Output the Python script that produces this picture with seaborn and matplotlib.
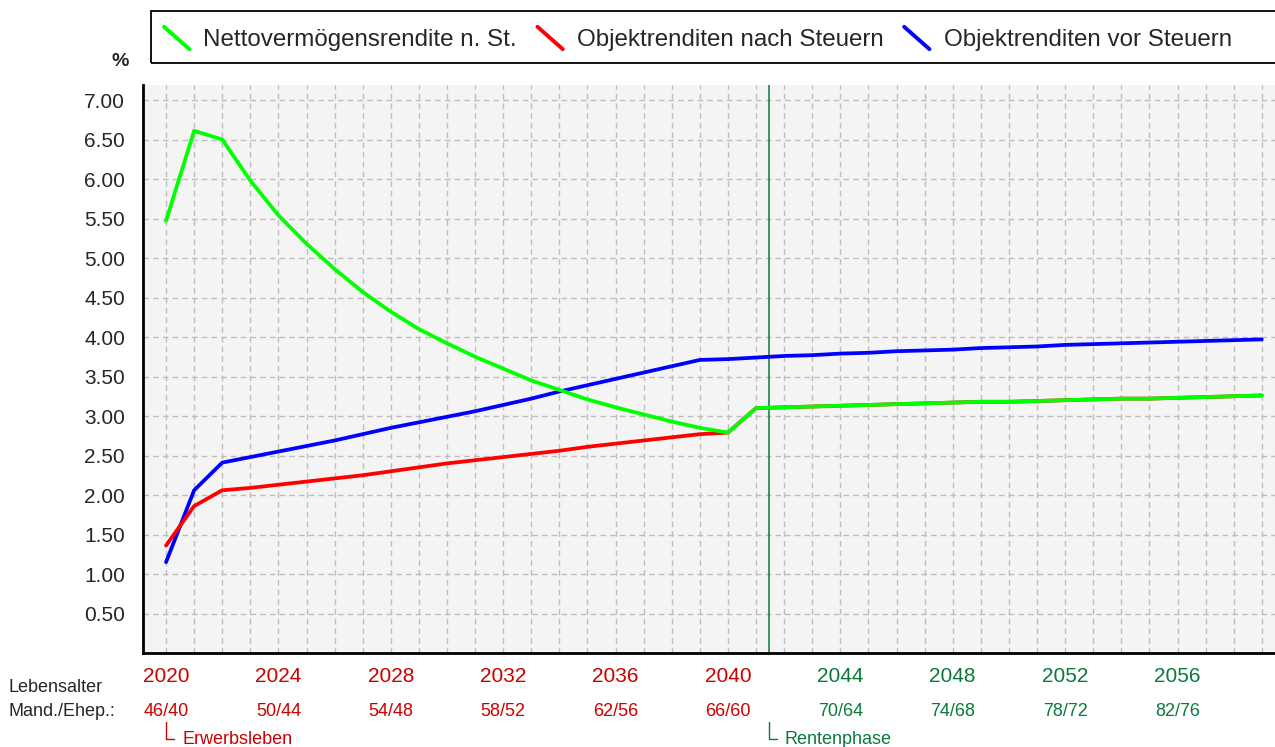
import pandas as pd
import seaborn as sns
import matplotlib.pyplot as plt
import matplotlib.transforms as mtransforms
from matplotlib.lines import Line2D
from matplotlib.patches import Rectangle
from matplotlib.legend_handler import HandlerBase

# data
years = list(range(2020, 2060))
netto = [5.47, 6.61, 6.50, 5.98, 5.54, 5.18, 4.86, 4.57, 4.32, 4.10,
         3.92, 3.75, 3.60, 3.45, 3.33, 3.21, 3.11, 3.02, 2.93, 2.85,
         2.79, 3.10, 3.11, 3.12, 3.13, 3.14, 3.15, 3.16, 3.17, 3.18,
         3.18, 3.19, 3.20, 3.21, 3.22, 3.22, 3.23, 3.24, 3.25, 3.26]
nach = [1.36, 1.86, 2.06, 2.09, 2.13, 2.17, 2.21, 2.25, 2.30, 2.35,
        2.40, 2.44, 2.48, 2.52, 2.56, 2.61, 2.65, 2.69, 2.73, 2.77,
        2.79, 3.10, 3.11, 3.12, 3.13, 3.14, 3.15, 3.16, 3.17, 3.18,
        3.18, 3.19, 3.20, 3.21, 3.22, 3.22, 3.23, 3.24, 3.25, 3.26]
vor = [1.15, 2.06, 2.41, 2.48, 2.55, 2.62, 2.69, 2.77, 2.85, 2.92,
       2.99, 3.06, 3.14, 3.22, 3.31, 3.39, 3.47, 3.55, 3.63, 3.71,
       3.72, 3.74, 3.76, 3.77, 3.79, 3.80, 3.82, 3.83, 3.84, 3.86,
       3.87, 3.88, 3.90, 3.91, 3.92, 3.93, 3.94, 3.95, 3.96, 3.97]

tick_years = [2020, 2024, 2028, 2032, 2036, 2040, 2044, 2048, 2052, 2056]
age_labels = ["46/40", "50/44", "54/48", "58/52", "62/56", "66/60",
              "70/64", "74/68", "78/72", "82/76"]
retire_year = 2041.45

names = ["Nettovermögensrendite n. St.", "Objektrenditen nach Steuern",
         "Objektrenditen vor Steuern"]
colors = {names[0]: "#00ff00", names[1]: "#ff0000", names[2]: "#0000ff"}

df = pd.DataFrame({
    "Jahr": years * 3,
    "Rendite": netto + nach + vor,
    "Serie": [names[0]] * 40 + [names[1]] * 40 + [names[2]] * 40,
})

sns.set_style("white")
plt.rcParams["font.family"] = ["Liberation Sans", "DejaVu Sans"]

RED = "#cc0000"
GREEN = "#0a7a3c"

fig = plt.figure(figsize=(12.75, 7.47), dpi=100)
ax = fig.add_axes([143 / 1275, 1 - 653 / 747, 1 - 143 / 1275, (653 - 85) / 747])
ax.set_facecolor("#f4f4f4")

# blue first, green last so green sits on top of red
sns.lineplot(data=df, x="Jahr", y="Rendite", hue="Serie",
             hue_order=[names[2], names[1], names[0]], palette=colors,
             linewidth=2.7, ax=ax, legend=False)

ax.set_xlim(2019.18, 2059.47)
ax.set_ylim(0, 7.19)

# grid
for y in [i * 0.5 for i in range(1, 15)]:
    ax.axhline(y, color="#bdbdbd", lw=1, ls=(0, (4, 3)), zorder=0)
for x in years:
    ax.axvline(x, color="#bdbdbd", lw=1, ls=(0, (4, 3)), zorder=0)

ax.axvline(retire_year, color=GREEN, lw=1.1, zorder=1)

ax.set_yticks([i * 0.5 for i in range(1, 15)])
ax.set_yticklabels(["%.2f" % (i * 0.5) for i in range(1, 15)], fontsize=15)
ax.tick_params(axis="y", direction="in", length=3, width=1, pad=13)
ax.set_xticks(tick_years)
ax.set_xticklabels([str(y) for y in tick_years], fontsize=15)
ax.tick_params(axis="x", length=0, pad=10)
for lab, y in zip(ax.get_xticklabels(), tick_years):
    lab.set_color(RED if y < retire_year else GREEN)
ax.set_xlabel("")
ax.set_ylabel("")

for s in ["top", "right"]:
    ax.spines[s].set_visible(False)
ax.spines["left"].set_linewidth(2)
ax.spines["bottom"].set_linewidth(2)
ax.spines["left"].set_color("black")
ax.spines["bottom"].set_color("black")

# age row below the years
tr = mtransforms.blended_transform_factory(ax.transData, fig.transFigure)
for y, a in zip(tick_years, age_labels):
    ax.text(y, 1 - 711 / 747, a, transform=tr, ha="center", va="center",
            fontsize=13, color=RED if y < retire_year else GREEN)

fig.text(8 / 1275, 1 - 688 / 747, "Lebensalter", ha="left", va="center", fontsize=13)
fig.text(8 / 1275, 1 - 711 / 747, "Mand./Ehep.:", ha="left", va="center", fontsize=13)

# phase markers
px = 1 / 28.1
for x0, txt, c in [(2020, "Erwerbsleben", RED), (retire_year, "Rentenphase", GREEN)]:
    ax.add_line(Line2D([x0, x0, x0 + 8 * px], [1 - 722 / 747, 1 - 739 / 747, 1 - 739 / 747],
                       transform=tr, color=c, lw=1, clip_on=False))
    ax.text(x0 + 16 * px, 1 - 740 / 747, txt, transform=tr, ha="left", va="center",
            fontsize=13, color=c, clip_on=False)

fig.text(120 / 1275, 1 - 62 / 747, "%", ha="center", va="center",
         fontsize=14, fontweight="bold")


# legend with diagonal handles
class DiagHandler(HandlerBase):
    def create_artists(self, legend, orig_handle, xdescent, ydescent,
                       width, height, fontsize, trans):
        ln = Line2D([-xdescent, width - xdescent],
                    [height - ydescent, -ydescent],
                    color=orig_handle.get_color(), lw=2.8,
                    solid_capstyle="round", transform=trans)
        return [ln]


handles = [Line2D([], [], color=colors[n]) for n in names]
fig.legend(handles, names, loc="center left", ncol=3, frameon=False,
           bbox_to_anchor=(164 / 1275, 1 - 39 / 747), fontsize=17.4,
           handler_map={Line2D: DiagHandler()}, handlelength=1.05,
           handleheight=1.05, handletextpad=0.58, columnspacing=0.85,
           borderpad=0, borderaxespad=0)
fig.add_artist(Rectangle((151 / 1275, 1 - 63 / 747), 1200 / 1275, 52 / 747,
                         transform=fig.transFigure, fill=False, ec="black",
                         lw=1.3, clip_on=False))

plt.savefig("out.png", dpi=100)
plt.close()
